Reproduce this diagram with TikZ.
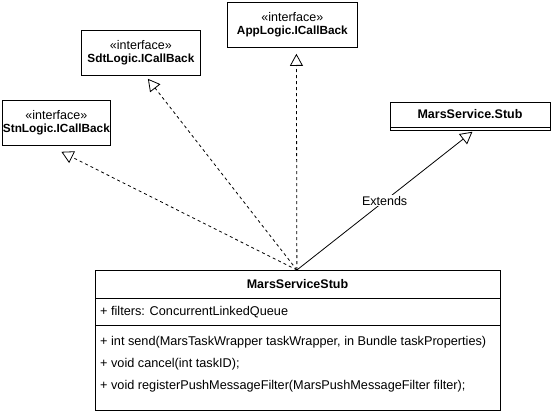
\documentclass[tikz,border=0pt]{standalone}
\usepackage{fontspec}
\setmainfont{Liberation Sans}
\usetikzlibrary{arrows.meta}
\tikzset{
  classbox/.style={draw,rectangle,anchor=north west,align=center,inner sep=0pt,line width=0.8pt},
  member/.style={anchor=west,inner sep=0pt,font=\fontsize{12.7}{14}\selectfont},
  realizes/.style={dash pattern=on 3pt off 3pt,line width=0.8pt,-{Triangle[open,length=12pt,width=13pt]}},
  extends/.style={line width=0.8pt,-{Triangle[open,length=12pt,width=13pt]}}
}
\newcommand{\ifacename}[1]{{\fontsize{11.8}{13}\selectfont\textbf{#1}}}
\begin{document}
\begin{tikzpicture}[x=1pt,y=-1pt,font=\fontsize{12.5}{14}\selectfont]
\useasboundingbox (0,0) rectangle (551,412);
% interfaces
\node[classbox,minimum width=108pt,minimum height=45pt] (stn) at (2,100) {«interface»\\[-1pt]\ifacename{StnLogic.ICallBack}};
\node[classbox,minimum width=119pt,minimum height=45pt] (sdt) at (81,30) {«interface»\\[-1pt]\ifacename{SdtLogic.ICallBack}};
\node[classbox,minimum width=130pt,minimum height=45pt] (app) at (227,2) {«interface»\\[-1pt]\ifacename{AppLogic.ICallBack}};
% parent class
\node[classbox,minimum width=160pt,minimum height=28pt] (stub) at (390,102) {};
\node (stubname) at (470,114) {\textbf{MarsService.Stub}};
\draw[line width=0.8pt] (390,127) -- (550,127);
% main class
\node[classbox,minimum width=405pt,minimum height=140pt] (main) at (95,270) {};
\node (mainname) at (297.5,284) {\textbf{MarsServiceStub}};
\draw[line width=0.8pt] (95,298) -- (500,298);
\draw[line width=0.8pt] (95,325) -- (500,325);
\node[member] (filters) at (100,312) {+ filters: ConcurrentLinkedQueue};
\node[member] (send) at (100,342) {+ int send(MarsTaskWrapper taskWrapper, in Bundle taskProperties)};
\node[member] (cancel) at (100,364) {+ void cancel(int taskID);};
\node[member] (register) at (100,386) {+ void registerPushMessageFilter(MarsPushMessageFilter filter);};
% arrow ends
\coordinate (stnin) at ([xshift=5pt,yshift=-6pt]stn.south);
\coordinate (sdtin) at ([xshift=7pt,yshift=-3pt]sdt.south);
\coordinate (appin) at ([xshift=4pt,yshift=-6pt]app.south);
\coordinate (stubin) at ([xshift=2pt,yshift=-1pt]stub.south);
\coordinate (mainout) at ([xshift=-1pt]main.north);
\draw[realizes] (mainout) -- (stnin);
\draw[realizes] (mainout) -- (sdtin);
\draw[realizes] (mainout) -- (appin);
\draw[extends] (mainout) -- node[fill=white,inner sep=1pt] (extlabel) {Extends} (stubin);
\end{tikzpicture}
\end{document}
